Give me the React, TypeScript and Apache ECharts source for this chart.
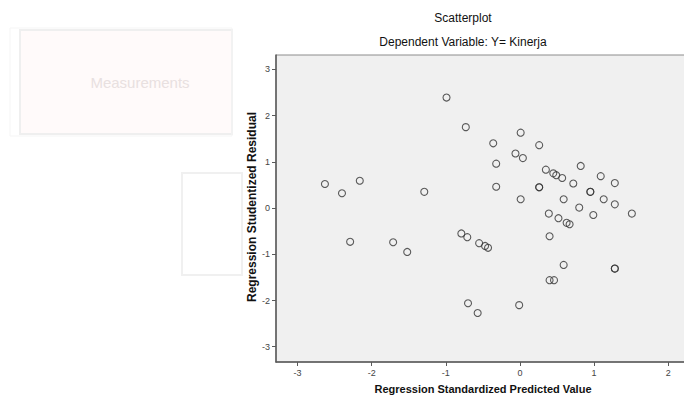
import React, { useEffect, useRef } from "react";
import * as echarts from "echarts";

const predicted: number[] = [
  -2.63, -2.40, -2.16, -1.29, -0.99, -0.73, -2.29, -1.71, -1.52, -0.79,
  -0.71, -0.70, -0.57, -0.55, -0.47, -0.43, -0.01, 0.01, -0.36, 0.26,
  -0.06, 0.04, -0.32, 0.35, 0.45, 0.49, 0.57, 0.82, 1.09, 1.28,
  0.72, -0.32, 0.26, 0.26, 0.95, 0.95, 0.01, 0.59, 1.13, 1.28,
  0.80, 0.39, 1.51, 0.99, 0.52, 0.63, 0.67, 0.40, 0.59, 0.40,
  0.46, 1.28, 1.28,
];
const residual: number[] = [
  0.52, 0.32, 0.59, 0.35, 2.39, 1.75, -0.73, -0.74, -0.95, -0.55,
  -0.63, -2.06, -2.27, -0.76, -0.82, -0.86, -2.10, 1.63, 1.40, 1.36,
  1.18, 1.08, 0.96, 0.83, 0.75, 0.71, 0.65, 0.91, 0.69, 0.54,
  0.53, 0.46, 0.45, 0.45, 0.35, 0.35, 0.19, 0.19, 0.19, 0.08,
  0.01, -0.12, -0.12, -0.15, -0.22, -0.32, -0.35, -0.61, -1.23, -1.56,
  -1.56, -1.31, -1.31,
];
const xTicks: number[] = [-3, -2, -1, 0, 1, 2];
const yTicks: number[] = [-3, -2, -1, 0, 1, 2, 3];

const chartTitle = "Scatterplot";
const chartSubtitle = "Dependent Variable: Y= Kinerja";
const xName = "Regression Standardized Predicted Value";
const yName = "Regression Studentized Residual";
const ghostLabel = "Measurements";

export default function App() {
  const ref = useRef<HTMLDivElement>(null);
  useEffect(() => {
    if (!ref.current) return;
    const chart = echarts.init(ref.current, undefined, { renderer: "svg" });
    const font = "Arial, 'Liberation Sans', sans-serif";
    chart.setOption({
      animation: false,
      backgroundColor: "#ffffff",
      grid: {
        left: 276,
        top: 55,
        width: 420,
        height: 307,
        show: true,
        backgroundColor: "#f0f0f0",
        borderColor: "#8c8c8c",
        borderWidth: 1,
        containLabel: false,
        outerBoundsMode: "none",
      },
      xAxis: {
        type: "value",
        min: -3.29,
        max: 2.375,
        axisLine: { show: true, onZero: false, lineStyle: { color: "#5a5a5a", width: 1.5 } },
        axisTick: { show: true, length: 4, customValues: xTicks, lineStyle: { color: "#5a5a5a" } },
        axisLabel: { customValues: xTicks, fontSize: 9, color: "#444", fontFamily: font, margin: 6 },
        splitLine: { show: false },
      },
      yAxis: {
        type: "value",
        min: -3.33,
        max: 3.31,
        axisLine: { show: true, onZero: false, lineStyle: { color: "#5a5a5a", width: 1.5 } },
        axisTick: { show: true, length: 4, customValues: yTicks, lineStyle: { color: "#5a5a5a" } },
        axisLabel: { customValues: yTicks, fontSize: 9, color: "#444", fontFamily: font, margin: 6 },
        splitLine: { show: false },
      },
      series: [
        {
          type: "scatter",
          symbol: "circle",
          symbolSize: 7,
          data: predicted.map((x, i) => [x, residual[i]]),
          itemStyle: { color: "rgba(0,0,0,0)", borderColor: "#333333", borderWidth: 1.1 },
        },
      ],
      graphic: [
        {
          type: "rect",
          shape: { x: 20, y: 30, width: 212, height: 104 },
          style: { fill: "#fffafa", stroke: "#efefef", lineWidth: 2 },
          silent: true,
        },
        {
          type: "rect",
          shape: { x: 10, y: 28, width: 222, height: 108 },
          style: { fill: "none", stroke: "#f5f5f5", lineWidth: 1 },
          silent: true,
        },
        {
          type: "text",
          x: 140,
          y: 82,
          style: {
            text: ghostLabel,
            fill: "#e8e0e0",
            font: "15px " + font,
            textAlign: "center",
            textVerticalAlign: "middle",
          },
          silent: true,
        },
        {
          type: "rect",
          shape: { x: 182, y: 173, width: 60, height: 102 },
          style: { fill: "#ffffff", stroke: "#f0f0f0", lineWidth: 2 },
          silent: true,
        },
        {
          type: "text",
          x: 463,
          y: 18,
          style: { text: chartTitle, fill: "#111", font: "12px " + font, textAlign: "center", textVerticalAlign: "middle" },
        },
        {
          type: "text",
          x: 463,
          y: 42,
          style: { text: chartSubtitle, fill: "#111", font: "12px " + font, textAlign: "center", textVerticalAlign: "middle" },
        },
        {
          type: "text",
          x: 483,
          y: 389,
          style: { text: xName, fill: "#111", font: "bold 11px " + font, textAlign: "center", textVerticalAlign: "middle" },
        },
        {
          type: "text",
          x: 252,
          y: 207,
          rotation: Math.PI / 2,
          style: { text: yName, fill: "#111", font: "bold 12px " + font, textAlign: "center", textVerticalAlign: "middle" },
        },
      ],
    });
    return () => chart.dispose();
  }, []);
  return (
    <div
      ref={ref}
      style={{ position: "fixed", left: 0, top: 0, width: 684, height: 396 }}
    />
  );
}
